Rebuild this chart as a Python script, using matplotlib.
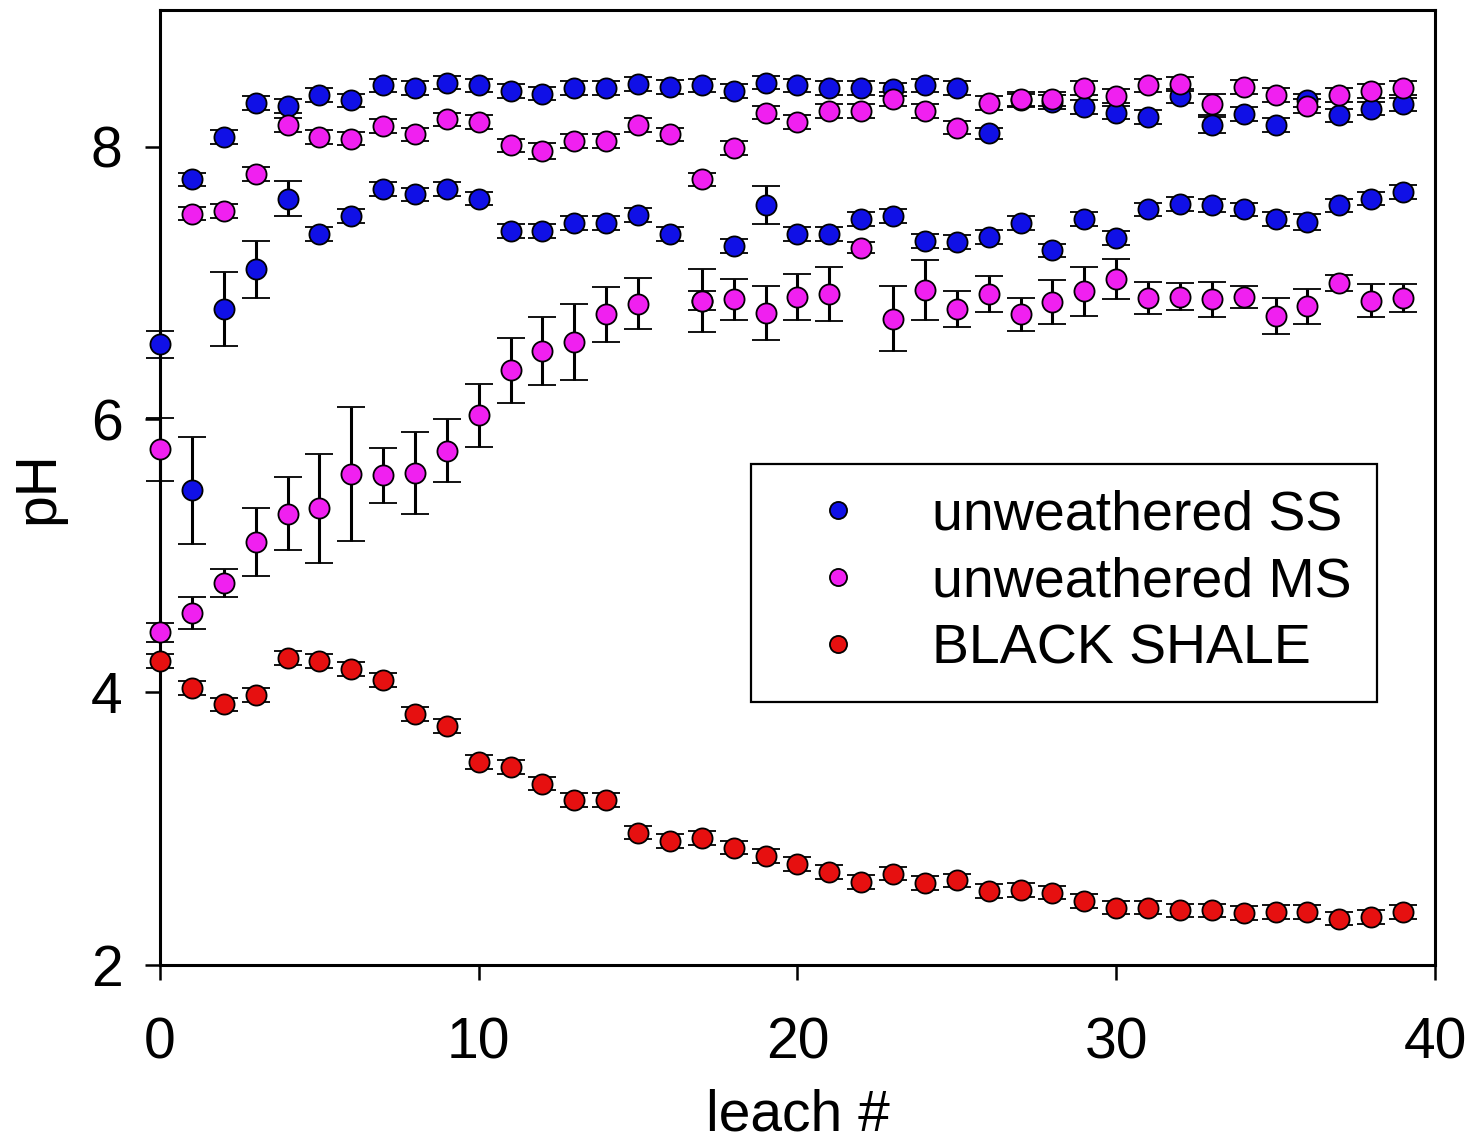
import numpy as np
import matplotlib.pyplot as plt

nan = np.nan

leach = np.arange(40)

# unweathered SS, two replicate columns
ss_a = [6.55, 7.76, 8.07, 8.32, 8.30, 8.38, 8.34, 8.45, 8.43, 8.47,
        8.45, 8.41, 8.39, 8.43, 8.43, 8.46, 8.44, 8.45, 8.41, 8.47,
        8.45, 8.43, 8.43, 8.42, 8.45, 8.43, 8.10, 8.34, 8.33, 8.29,
        8.25, 8.22, 8.37, 8.16, 8.24, 8.16, 8.34, 8.23, 8.28, 8.31]
ss_a_err = [0.10, 0.05, 0.05, 0.05, 0.05, 0.05, 0.05, 0.05, 0.05, 0.05,
            0.05, 0.05, 0.05, 0.05, 0.05, 0.05, 0.05, 0.05, 0.05, 0.05,
            0.05, 0.05, 0.05, 0.05, 0.05, 0.05, 0.04, 0.05, 0.05, 0.05,
            0.05, 0.05, 0.05, 0.06, 0.05, 0.05, 0.05, 0.05, 0.05, 0.05]
ss_b = [nan, 5.48, 6.81, 7.10, 7.62, 7.36, 7.49, 7.69, 7.65, 7.69,
        7.62, 7.38, 7.38, 7.44, 7.44, 7.50, 7.36, 6.87, 7.27, 7.57,
        7.36, 7.36, 7.47, 7.49, 7.31, 7.30, 7.34, 7.44, 7.24, 7.47,
        7.33, 7.54, 7.58, 7.57, 7.54, 7.47, 7.45, 7.57, 7.62, 7.67]
ss_b_err = [0, 0.39, 0.27, 0.21, 0.13, 0.05, 0.05, 0.05, 0.05, 0.05,
            0.05, 0.05, 0.05, 0.05, 0.05, 0.05, 0.05, 0.07, 0.05, 0.14,
            0.05, 0.05, 0.05, 0.05, 0.05, 0.05, 0.05, 0.05, 0.05, 0.05,
            0.05, 0.05, 0.05, 0.05, 0.05, 0.05, 0.06, 0.05, 0.05, 0.05]

# unweathered MS, two replicate columns
ms_a = [5.78, 7.51, 7.53, 7.80, 8.16, 8.07, 8.06, 8.15, 8.09, 8.20,
        8.18, 8.01, 7.97, 8.04, 8.04, 8.16, 8.09, 7.76, 7.99, 8.25,
        8.18, 8.26, 8.26, 8.35, 8.26, 8.14, 8.32, 8.35, 8.35, 8.43,
        8.37, 8.45, 8.46, 8.31, 8.44, 8.38, 8.30, 8.38, 8.41, 8.43]
ms_a_err = [0.23, 0.05, 0.05, 0.05, 0.05, 0.05, 0.05, 0.05, 0.05, 0.05,
            0.05, 0.05, 0.06, 0.05, 0.05, 0.05, 0.05, 0.05, 0.05, 0.05,
            0.05, 0.05, 0.05, 0.05, 0.05, 0.05, 0.05, 0.05, 0.05, 0.05,
            0.05, 0.05, 0.05, 0.08, 0.05, 0.05, 0.05, 0.05, 0.05, 0.05]
ms_b = [4.44, 4.58, 4.80, 5.10, 5.31, 5.35, 5.60, 5.59, 5.61, 5.77,
        6.03, 6.36, 6.50, 6.57, 6.77, 6.85, nan, 6.87, 6.88, 6.78,
        6.90, 6.92, 7.26, 6.74, 6.95, 6.81, 6.92, 6.77, 6.86, 6.94,
        7.03, 6.89, 6.90, 6.88, 6.90, 6.76, 6.83, 7.00, 6.87, 6.89]
ms_b_err = [0.07, 0.12, 0.10, 0.25, 0.27, 0.40, 0.49, 0.20, 0.30, 0.23,
            0.23, 0.24, 0.25, 0.28, 0.20, 0.19, 0, 0.23, 0.15, 0.20,
            0.17, 0.20, 0.04, 0.24, 0.22, 0.13, 0.13, 0.12, 0.16, 0.18,
            0.15, 0.12, 0.10, 0.13, 0.08, 0.13, 0.13, 0.06, 0.12, 0.10]

# black shale
bs = [4.23, 4.03, 3.91, 3.98, 4.25, 4.23, 4.17, 4.09, 3.84, 3.75,
      3.49, 3.45, 3.33, 3.21, 3.21, 2.97, 2.91, 2.93, 2.86, 2.80,
      2.74, 2.68, 2.61, 2.67, 2.60, 2.62, 2.54, 2.55, 2.53, 2.47,
      2.42, 2.42, 2.40, 2.40, 2.38, 2.39, 2.39, 2.34, 2.35, 2.39]
bs_err = [0.05] * 40

blue = "#1010e6"
magenta = "#f020f0"
red = "#e61010"

plt.rcParams["font.family"] = ["Liberation Sans", "DejaVu Sans"]

fig = plt.figure(figsize=(14.68, 11.46), dpi=100)
ax = fig.add_axes([0.109, 0.158, 0.8685, 0.833])

style = dict(fmt="o", markersize=14.5, markeredgecolor="black",
             markeredgewidth=1.3, ecolor="black", elinewidth=2.2,
             capsize=10, capthick=2.2, clip_on=False, zorder=3)

h_ss = ax.errorbar(leach, ss_a, yerr=ss_a_err, color=blue, **style)
ax.errorbar(leach, ss_b, yerr=ss_b_err, color=blue, **style)
h_ms = ax.errorbar(leach, ms_a, yerr=ms_a_err, color=magenta, **style)
ax.errorbar(leach, ms_b, yerr=ms_b_err, color=magenta, **style)
h_bs = ax.errorbar(leach, bs, yerr=bs_err, color=red, **style)

ax.set_xlim(0, 40)
ax.set_ylim(2, 9)
ax.set_xticks([0, 10, 20, 30, 40])
ax.set_yticks([2, 4, 6, 8])
ax.tick_params(axis="both", direction="out", length=11, width=1.8,
               labelsize=41)
ax.tick_params(axis="x", pad=26)
ax.tick_params(axis="y", pad=16)
for sp in ax.spines.values():
    sp.set_linewidth(2.2)

ax.set_xlabel("leach #", fontsize=41, labelpad=13)
ax.set_ylabel("pH", fontsize=41, labelpad=18)

leg = ax.legend([h_ss.lines[0], h_ms.lines[0], h_bs.lines[0]],
                ["unweathered SS", "unweathered MS", "BLACK SHALE"],
                loc="lower left", bbox_to_anchor=(0.4635, 0.2754),
                borderaxespad=0, fontsize=40, markerscale=0.85,
                handlelength=2.18, handletextpad=0.6, borderpad=0.47,
                labelspacing=0.27, fancybox=False, framealpha=1,
                edgecolor="black")
leg.get_frame().set_linewidth(1.6)

fig.savefig("out.png", dpi=100)
